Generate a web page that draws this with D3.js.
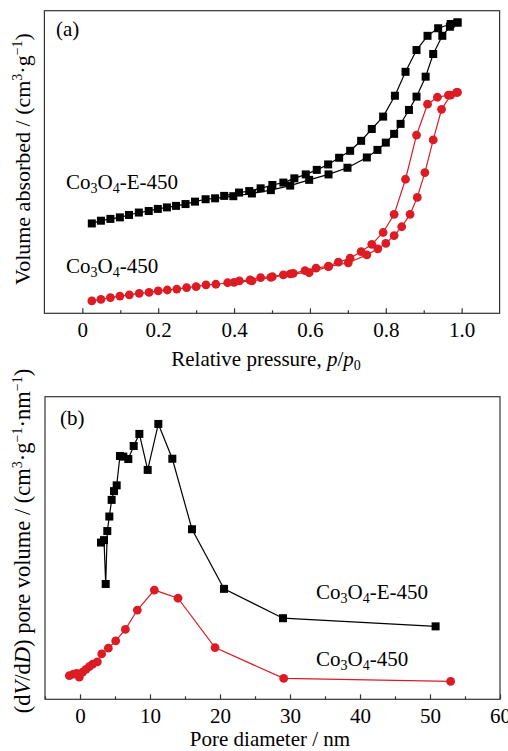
<!DOCTYPE html>
<html>
<head>
<meta charset="utf-8">
<script src="https://cdn.jsdelivr.net/npm/d3@7"></script>
<style>
  html, body { margin: 0; padding: 0; background: #fff; }
  svg { display: block; font-family: "Liberation Serif", "Times New Roman", serif; }
  .frame { fill: none; stroke: #333; stroke-width: 1.2; }
  .axis path { display: none; }
  .axis line { stroke: #333; stroke-width: 1.2; }
  .axis text { font-size: 21px; fill: #000; font-family: "Liberation Serif", serif; }
</style>
</head>
<body>
<div id="chart"></div>
<script>
(function () {
  'use strict';

  // ── Panel (a): N2 isotherms (relative pressure vs volume, arbitrary units) ──
  var e450AdsP = [0.025, 0.049, 0.074, 0.099, 0.123, 0.149, 0.175, 0.199, 0.223, 0.247, 0.272, 0.297, 0.325, 0.350,
    0.398, 0.447, 0.497, 0.548, 0.598, 0.649, 0.699, 0.750, 0.778, 0.800, 0.822, 0.839, 0.861, 0.881, 0.905, 0.925, 0.949, 0.969, 0.989];
  var e450AdsV = [29.7, 30.6, 31.2, 31.7, 32.5, 33.3, 33.8, 34.5, 35.0, 35.5, 36.1, 36.9, 37.7, 38.0,
    38.7, 39.6, 40.7, 42.2, 44.1, 45.9, 48.1, 51.5, 54.0, 56.4, 59.3, 62.6, 67.2, 71.6, 78.2, 85.7, 91.7, 94.7, 96.1];
  var e450DesP = [0.989, 0.971, 0.938, 0.910, 0.881, 0.852, 0.824, 0.793, 0.763, 0.735, 0.706, 0.677, 0.648, 0.618,
    0.589, 0.559, 0.530, 0.501, 0.470, 0.440, 0.413, 0.374];
  var e450DesV = [96.1, 95.6, 94.2, 91.7, 87.0, 79.8, 71.9, 65.0, 60.9, 57.0, 53.7, 51.4, 49.2, 47.4,
    45.9, 44.6, 43.2, 42.4, 41.3, 40.4, 39.9, 38.8];

  var c450AdsP = [0.025, 0.049, 0.074, 0.099, 0.124, 0.150, 0.176, 0.200, 0.224, 0.249, 0.275, 0.300, 0.326, 0.352,
    0.400, 0.447, 0.497, 0.548, 0.598, 0.649, 0.701, 0.750, 0.779, 0.800, 0.822, 0.842, 0.864, 0.883, 0.903, 0.925, 0.947, 0.971, 0.989];
  var c450AdsV = [4.1, 4.6, 5.2, 5.7, 6.1, 6.6, 6.9, 7.4, 7.7, 8.0, 8.5, 8.8, 9.4, 9.6,
    10.2, 10.7, 11.9, 13.0, 13.4, 15.4, 16.7, 19.3, 21.3, 23.1, 25.7, 28.6, 32.7, 38.3, 46.5, 57.3, 67.4, 72.1, 73.0];
  var c450DesP = [0.987, 0.965, 0.936, 0.910, 0.881, 0.852, 0.822, 0.793, 0.763, 0.735, 0.706, 0.675, 0.649, 0.616,
    0.587, 0.556, 0.530, 0.501, 0.470, 0.442, 0.414, 0.383];
  var c450DesV = [73.0, 72.1, 71.4, 69.1, 58.9, 44.3, 32.7, 26.7, 22.8, 20.4, 18.2, 16.9, 15.6, 14.9,
    14.1, 13.2, 12.7, 12.1, 11.8, 11.0, 10.7, 10.1];

  var pTicks = [0, 0.2, 0.4, 0.6, 0.8, 1.0];
  var pTickLabels = ['0', '0.2', '0.4', '0.6', '0.8', '1.0'];

  // ── Panel (b): pore size distribution ──
  var e450PoreD = [3.0, 3.43, 3.67, 3.90, 4.19, 4.52, 4.86, 5.24, 5.71, 6.19, 6.90, 7.67, 8.48, 9.67, 11.19, 13.19, 16.0, 20.57, 29.0, 50.8];
  var e450PoreV = [51.8, 52.6, 38.1, 55.6, 60.4, 65.9, 68.8, 70.7, 80.4, 80.2, 79.4, 83.7, 87.7, 75.8, 91.0, 79.5, 56.2, 36.5, 26.8, 24.1];
  var c450PoreD = [-1.52, -0.95, -0.48, -0.10, 0.38, 0.86, 1.33, 1.81, 2.48, 3.10, 4.05, 5.10, 6.48, 8.19, 10.62, 14.0, 19.29, 29.1, 52.95];
  var c450PoreV = [7.8, 8.3, 8.6, 7.3, 9.0, 9.9, 10.8, 11.6, 12.4, 15.0, 16.9, 19.3, 23.1, 29.5, 36.1, 33.4, 17.1, 6.9, 5.9];

  var dTicks = [0, 10, 20, 30, 40, 50, 60];

  var black = '#000';
  var red = '#dc1c24';

  var W = 508, H = 751;
  var svg = d3.select('#chart').append('svg').attr('width', W).attr('height', H);

  function zip(xs, ys) {
    return xs.map(function (x, i) { return { x: x, y: ys[i] }; });
  }

  function drawPanel(opt) {
    var x = d3.scaleLinear().domain(opt.xDomain).range([opt.left, opt.right]);
    var y = d3.scaleLinear().domain([0, 100]).range([opt.bottom, opt.top]);
    var g = svg.append('g');

    // minor ticks
    g.append('g')
      .attr('class', 'axis')
      .attr('transform', 'translate(0,' + opt.bottom + ')')
      .call(d3.axisBottom(x).tickValues(opt.minor).tickSizeInner(-3).tickSizeOuter(0).tickFormat(''));

    // major ticks and labels
    g.append('g')
      .attr('class', 'axis')
      .attr('transform', 'translate(0,' + opt.bottom + ')')
      .call(d3.axisBottom(x).tickValues(opt.major).tickSizeInner(-5).tickSizeOuter(0).tickPadding(9)
        .tickFormat(opt.format));

    g.append('rect')
      .attr('class', 'frame')
      .attr('x', opt.left).attr('y', opt.top)
      .attr('width', opt.right - opt.left).attr('height', opt.bottom - opt.top);

    var line = d3.line().x(function (d) { return x(d.x); }).y(function (d) { return y(d.y); });

    opt.series.forEach(function (s) {
      var pts = zip(s.xs, s.ys);
      g.append('path')
        .datum(pts)
        .attr('d', line)
        .attr('fill', 'none')
        .attr('stroke', s.color)
        .attr('stroke-width', 1.2);
      if (s.shape === 'square') {
        g.append('g').selectAll('rect')
          .data(pts)
          .enter().append('rect')
          .attr('x', function (d) { return x(d.x) - 4; })
          .attr('y', function (d) { return y(d.y) - 4; })
          .attr('width', 8).attr('height', 8)
          .attr('fill', s.color);
      } else {
        g.append('g').selectAll('circle')
          .data(pts)
          .enter().append('circle')
          .attr('cx', function (d) { return x(d.x); })
          .attr('cy', function (d) { return y(d.y); })
          .attr('r', 4.4)
          .attr('fill', s.color);
      }
    });
    return g;
  }

  function range(a, b, step) {
    return d3.range(a, b + step / 2, step);
  }

  var ga = drawPanel({
    xDomain: [-0.1, 1.1], left: 44.4, right: 499.6, top: 10.7, bottom: 313.3,
    major: pTicks, minor: range(0.1, 1.0, 0.2),
    format: function (d, i) { return pTickLabels[i]; },
    series: [
      { xs: e450AdsP, ys: e450AdsV, color: black, shape: 'square' },
      { xs: e450DesP, ys: e450DesV, color: black, shape: 'square' },
      { xs: c450AdsP, ys: c450AdsV, color: red, shape: 'circle' },
      { xs: c450DesP, ys: c450DesV, color: red, shape: 'circle' }
    ]
  });

  var gb = drawPanel({
    xDomain: [-5, 60], left: 45, right: 500, top: 396.7, bottom: 699.3,
    major: dTicks, minor: range(-5, 55, 10),
    format: function (d) { return d; },
    series: [
      { xs: e450PoreD, ys: e450PoreV, color: black, shape: 'square' },
      { xs: c450PoreD, ys: c450PoreV, color: red, shape: 'circle' }
    ]
  });

  // ── text ──
  function sampleLabel(g, x, y, suffix) {
    var t = g.append('text').attr('x', x).attr('y', y).attr('font-size', 21);
    t.append('tspan').text('Co');
    t.append('tspan').attr('font-size', 14).attr('dy', 4).text('3');
    t.append('tspan').attr('dy', -4).text('O');
    t.append('tspan').attr('font-size', 14).attr('dy', 4).text('4');
    t.append('tspan').attr('dy', -4).text(suffix);
  }

  ga.append('text').attr('x', 56).attr('y', 36).attr('font-size', 21).text('(a)');
  gb.append('text').attr('x', 60).attr('y', 425).attr('font-size', 21).text('(b)');

  sampleLabel(ga, 66, 189, '-E-450');
  sampleLabel(ga, 66, 273, '-450');
  sampleLabel(gb, 316, 599, '-E-450');
  sampleLabel(gb, 316, 666, '-450');

  var xa = svg.append('text').attr('x', 266).attr('y', 366).attr('text-anchor', 'middle').attr('font-size', 21);
  xa.append('tspan').text('Relative pressure, ');
  xa.append('tspan').attr('font-style', 'italic').text('p');
  xa.append('tspan').text('/');
  xa.append('tspan').attr('font-style', 'italic').text('p');
  xa.append('tspan').attr('font-size', 14).attr('dy', 4).text('0');

  svg.append('text').attr('x', 270).attr('y', 746).attr('text-anchor', 'middle').attr('font-size', 21)
    .text('Pore diameter / nm');

  var ya = svg.append('text')
    .attr('transform', 'translate(30,159) rotate(-90)')
    .attr('text-anchor', 'middle').attr('font-size', 22);
  ya.append('tspan').text('Volume absorbed / (cm');
  ya.append('tspan').attr('font-size', 14).attr('dy', -8).text('3');
  ya.append('tspan').attr('dy', 8).text('·g');
  ya.append('tspan').attr('font-size', 14).attr('dy', -8).text('−1');
  ya.append('tspan').attr('dy', 8).text(')');

  var yb = svg.append('text')
    .attr('transform', 'translate(30,541) rotate(-90)')
    .attr('text-anchor', 'middle').attr('font-size', 22.5);
  yb.append('tspan').text('(d');
  yb.append('tspan').attr('font-style', 'italic').text('V');
  yb.append('tspan').text('/d');
  yb.append('tspan').attr('font-style', 'italic').text('D');
  yb.append('tspan').text(') pore volume / (cm');
  yb.append('tspan').attr('font-size', 14).attr('dy', -8).text('3');
  yb.append('tspan').attr('dy', 8).text('·g');
  yb.append('tspan').attr('font-size', 14).attr('dy', -8).text('−1');
  yb.append('tspan').attr('dy', 8).text('·nm');
  yb.append('tspan').attr('font-size', 14).attr('dy', -8).text('−1');
  yb.append('tspan').attr('dy', 8).text(')');
})();
</script>
</body>
</html>
